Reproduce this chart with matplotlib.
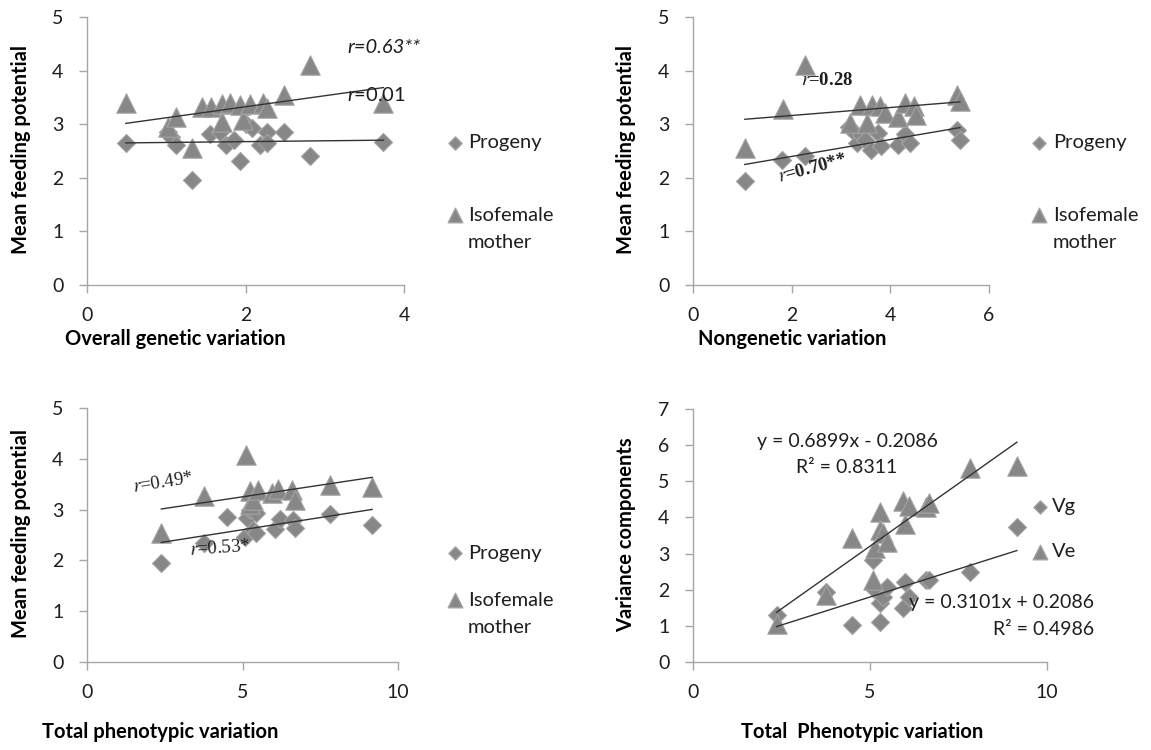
import numpy as np
import matplotlib
matplotlib.use('Agg')
import matplotlib.pyplot as plt

plt.rcParams['font.family'] = ['Lato', 'DejaVu Sans']
plt.rcParams['mathtext.fontset'] = 'custom'
plt.rcParams['mathtext.it'] = 'Lato:italic'
plt.rcParams['mathtext.rm'] = 'Lato'

# panel 1: overall genetic variation
gen_prog_x = [0.49, 1.02, 1.06, 1.12, 1.32, 1.55, 1.68, 1.76, 1.85, 1.93, 2.01, 2.08, 2.18, 2.27, 2.27, 2.48, 2.81, 3.74]
gen_prog_y = [2.64, 2.86, 2.76, 2.62, 1.95, 2.82, 2.86, 2.62, 2.70, 2.31, 3.00, 2.92, 2.62, 2.86, 2.64, 2.86, 2.40, 2.67]
gen_moth_x = [0.49, 1.02, 1.12, 1.32, 1.45, 1.57, 1.70, 1.70, 1.80, 1.93, 1.97, 2.06, 2.22, 2.27, 2.48, 2.81, 3.74]
gen_moth_y = [3.39, 2.95, 3.13, 2.55, 3.33, 3.33, 3.37, 3.05, 3.40, 3.36, 3.08, 3.37, 3.40, 3.30, 3.54, 4.10, 3.40]

# panel 2: nongenetic variation
ng_prog_x = [1.05, 1.80, 2.27, 3.16, 3.26, 3.33, 3.40, 3.49, 3.60, 3.75, 3.82, 4.16, 4.30, 4.40, 5.35, 5.41]
ng_prog_y = [1.94, 2.33, 2.40, 2.95, 2.86, 2.64, 2.80, 2.70, 2.52, 2.83, 2.60, 2.62, 2.82, 2.64, 2.90, 2.70]
ng_moth_x = [1.05, 1.82, 2.27, 3.18, 3.39, 3.52, 3.62, 3.80, 3.89, 4.16, 4.30, 4.47, 4.53, 5.35, 5.41]
ng_moth_y = [2.56, 3.29, 4.10, 3.02, 3.36, 3.02, 3.36, 3.34, 3.20, 3.14, 3.40, 3.34, 3.17, 3.54, 3.44]

# panel 3: total phenotypic variation
tp_prog_x = [2.39, 3.75, 4.49, 5.07, 5.13, 5.24, 5.35, 5.44, 5.44, 6.04, 6.21, 6.63, 6.68, 7.81, 9.17]
tp_prog_y = [1.95, 2.34, 2.86, 2.47, 2.83, 2.99, 2.60, 2.53, 2.93, 2.62, 2.82, 2.80, 2.64, 2.92, 2.70]
tp_moth_x = [2.39, 3.75, 5.10, 5.24, 5.24, 5.34, 5.51, 5.94, 6.15, 6.58, 6.69, 7.80, 9.17]
tp_moth_y = [2.53, 3.27, 4.08, 3.36, 3.12, 3.19, 3.39, 3.33, 3.40, 3.38, 3.19, 3.49, 3.45]

# panel 4: variance components
tot4 = [2.36, 3.75, 4.48, 5.09, 5.14, 5.28, 5.28, 5.36, 5.47, 5.92, 6.00, 6.10, 6.57, 6.67, 7.83, 9.15]
vg4 = [1.30, 1.94, 1.02, 2.82, 1.99, 1.12, 1.63, 1.81, 2.08, 1.49, 2.22, 1.81, 2.27, 2.27, 2.50, 3.74]
ve4 = [1.06, 1.84, 3.42, 2.27, 3.15, 4.16, 3.65, 3.57, 3.33, 4.46, 3.82, 4.32, 4.30, 4.39, 5.37, 5.41]

FACE = '#878787'
EDGE = '#a3a3a3'
AXC = '#a6a6a6'

W, H = 1151, 750
fig = plt.figure(figsize=(W / 100, H / 100), dpi=100)


def mkax(l, r, t, b):
    return fig.add_axes([l / W, 1 - b / H, (r - l) / W, (b - t) / H])


def style(ax, xmax, xstep, ymax):
    for s in ['top', 'right']:
        ax.spines[s].set_visible(False)
    for s in ['left', 'bottom']:
        ax.spines[s].set_color(AXC)
        ax.spines[s].set_linewidth(1)
    ax.set_xlim(0, xmax)
    ax.set_ylim(0, ymax)
    ax.set_xticks(np.arange(0, xmax + 0.01, xstep))
    ax.set_yticks(range(ymax + 1))
    ax.tick_params(length=6, width=1, color=AXC, labelsize=14, labelcolor='#1e1e1e')
    ax.tick_params(axis='y', pad=11)
    ax.tick_params(axis='x', pad=10)


def pts(ax, x, y, m):
    if m == 'D':
        ax.scatter(x, y, marker='D', s=85, c=FACE, edgecolors=EDGE, linewidths=0.8, clip_on=False, zorder=2)
    else:
        ax.scatter(x, y, marker='^', s=195, c=FACE, edgecolors=EDGE, linewidths=0.8, clip_on=False, zorder=2)


def trend(ax, x, y):
    k, b = np.polyfit(x, y, 1)
    xs = np.array([min(x), max(x)])
    ax.plot(xs, k * xs + b, color='#333333', lw=1, zorder=3)


def key(ax, x, ys, labels, tx):
    ax.scatter([x], [ys[0]], marker='D', s=45, c=FACE, edgecolors=EDGE, transform=ax.transAxes, clip_on=False)
    ax.scatter([x], [ys[1]], marker='^', s=110, c=FACE, edgecolors=EDGE, transform=ax.transAxes, clip_on=False)
    for yy, lab in zip(ys, labels):
        ax.text(tx, yy, lab, transform=ax.transAxes, ha='left', va='center', fontsize=14.5, color='#1e1e1e')


def labels(ax, xl, xlx, xly, yl, ylx, yly):
    ax.set_xlabel(xl, fontsize=14.5, fontweight='bold', va='center')
    ax.xaxis.set_label_coords(xlx, xly)
    ax.set_ylabel(yl, fontsize=14.5, fontweight='bold', va='center')
    ax.yaxis.set_label_coords(ylx, yly)


# ---- panel 1
ax1 = mkax(87, 404, 17, 285)
style(ax1, 4, 2, 5)
pts(ax1, gen_prog_x, gen_prog_y, 'D')
pts(ax1, gen_moth_x, gen_moth_y, '^')
trend(ax1, gen_moth_x, gen_moth_y)
trend(ax1, gen_prog_x, gen_prog_y)
labels(ax1, 'Overall genetic variation', 0.279, -0.2, 'Mean feeding potential', -0.207, 0.504)
ax1.text(3.28, 4.44, 'r=0.63**', fontsize=14.5, style='italic', va='center', color='#1e1e1e')
ax1.text(3.28, 3.55, r'$r$=0.01', fontsize=14.5, va='center', color='#1e1e1e')
key(ax1, 1.161, [0.530, 0.261, 0.157], ['Progeny', 'Isofemale', 'mother'], 1.202)

# ---- panel 2
ax2 = mkax(693, 989, 17, 285)
style(ax2, 6, 2, 5)
pts(ax2, ng_prog_x, ng_prog_y, 'D')
pts(ax2, ng_moth_x, ng_moth_y, '^')
trend(ax2, ng_moth_x, ng_moth_y)
trend(ax2, ng_prog_x, ng_prog_y)
labels(ax2, 'Nongenetic variation', 0.336, -0.2, 'Mean feeding potential', -0.226, 0.504)
ax2.text(2.72, 3.82, r'$r$=0.28', fontsize=13.5, family='Liberation Serif', fontweight='bold',
         math_fontfamily='stix', ha='center', va='center', color='#1e1e1e')
ax2.text(2.43, 2.18, r'$r$=0.70**', fontsize=13.5, family='Liberation Serif', fontweight='bold',
         math_fontfamily='stix', ha='center', va='center', rotation=15, color='#1e1e1e')
key(ax2, 1.169, [0.530, 0.261, 0.157], ['Progeny', 'Isofemale', 'mother'], 1.216)

# ---- panel 3
ax3 = mkax(87, 398, 408, 662)
style(ax3, 10, 5, 5)
pts(ax3, tp_prog_x, tp_prog_y, 'D')
pts(ax3, tp_moth_x, tp_moth_y, '^')
trend(ax3, tp_moth_x, tp_moth_y)
trend(ax3, tp_prog_x, tp_prog_y)
labels(ax3, 'Total phenotypic variation', 0.235, -0.276, 'Mean feeding potential', -0.211, 0.504)
ax3.text(2.44, 3.52, r'$r$=0.49*', fontsize=13.5, family='Liberation Serif',
         math_fontfamily='stix', ha='center', va='center', rotation=9, color='#1e1e1e')
ax3.text(4.28, 2.24, r'$r$=0.53*', fontsize=13.5, family='Liberation Serif',
         math_fontfamily='stix', ha='center', va='center', rotation=4, color='#1e1e1e')
key(ax3, 1.183, [0.429, 0.244, 0.134], ['Progeny', 'Isofemale', 'mother'], 1.225)

# ---- panel 4
ax4 = mkax(693, 1047, 409, 662)
style(ax4, 10, 5, 7)
pts(ax4, tot4, vg4, 'D')
pts(ax4, tot4, ve4, '^')
trend(ax4, tot4, ve4)
trend(ax4, tot4, vg4)
labels(ax4, 'Total  Phenotypic variation', 0.479, -0.276, 'Variance components', -0.189, 0.502)
ax4.text(4.35, 6.09, 'y = 0.6899x - 0.2086', fontsize=14, ha='center', va='center', color='#1e1e1e')
ax4.text(4.35, 5.37, 'R² = 0.8311', fontsize=14, ha='center', va='center', color='#1e1e1e')
ax4.text(11.33, 1.66, 'y = 0.3101x + 0.2086', fontsize=14, ha='right', va='center', color='#1e1e1e')
ax4.text(11.33, 0.89, 'R² = 0.4986', fontsize=14, ha='right', va='center', color='#1e1e1e')
key(ax4, 0.980, [0.613, 0.435], ['Vg', 'Ve'], 1.014)

fig.savefig('out.png', dpi=100, facecolor='white')
